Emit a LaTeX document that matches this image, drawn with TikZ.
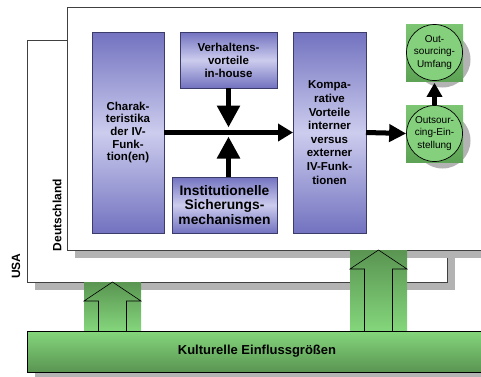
\documentclass[tikz,border=0pt]{standalone}
\usepackage{fontspec}
\setmainfont{Liberation Sans}
\usetikzlibrary{arrows.meta,calc,positioning,shadows}
\definecolor{lilaD}{HTML}{7272C0}
\definecolor{lilaH}{HTML}{CCCCEE}
\definecolor{lilaR}{HTML}{3C3C6C}
\definecolor{gruenH}{HTML}{84D67C}
\definecolor{gruenD}{HTML}{5A9552}
\definecolor{gruenQ}{HTML}{6EC064}
\definecolor{gruenK}{HTML}{84D07C}
\definecolor{schatten}{HTML}{B3B3B3}
\tikzset{
	land/.style={draw=black!75, fill=white, line width=.9pt, inner sep=0pt, outer sep=0pt,
		drop shadow={shadow xshift=8pt, shadow yshift=-8pt, fill=schatten, opacity=1}},
	land name/.style={rotate=90, font=\fontsize{12}{14}\selectfont\bfseries, inner sep=0pt},
	lila/.style={draw=lilaR, line width=.8pt, top color=lilaD, bottom color=lilaD, middle color=lilaH,
		inner sep=0pt, outer sep=0pt, align=center,
		font=\fontsize{11.5}{13}\selectfont\bfseries},
	quadrat/.style={top color=gruenQ!90!white, bottom color=gruenQ!85!black, minimum size=57pt,
		inner sep=0pt, outer sep=0pt},
	kreis/.style={circle, draw=black, line width=.7pt, fill=gruenK, minimum size=56pt,
		inner sep=0pt, align=center, font=\fontsize{10}{12.5}\selectfont},
	streifen/.style={top color=gruenD, bottom color=gruenH, minimum width=57pt,
		inner sep=0pt, outer sep=0pt},
	pfeilrand/.style={draw=black, line width=.6pt},
	pfeil/.style 2 args={line width=5.5pt, -{Triangle[length=#1pt, width=#2pt]}}
}
\begin{document}
\begin{tikzpicture}[x=1pt, y=-1pt]
	\useasboundingbox (0,0) rectangle (481,376);
	% Laender
	\node[land, minimum width=420, minimum height=242] (usa) at (237,161) {};
	\node[land, minimum width=433, minimum height=243] (de) at (283.5,128.5) {};
	\node[land name] at (16,266) {USA};
	\node[land name] at (57,215) {Deutschland};
	% Modell
	\node[lila, minimum width=72, minimum height=201, font=\fontsize{11.5}{12.6}\selectfont\bfseries] (charak)
		at (128,132.5) {Charak-\\teristika\\der IV-\\Funk-\\tion(en)};
	\node[lila, minimum width=97, minimum height=56, right=16 of charak.north east, anchor=north west] (verh)
		{Verhaltens-\\vorteile\\in-house};
	\node[lila, minimum width=105, minimum height=56, font=\fontsize{13.8}{14.5}\selectfont\bfseries] (inst)
		at (224.5,205) {Institutionelle\\Sicherungs-\\mechanismen};
	\node[lila, minimum width=73, minimum height=201, font=\fontsize{11.5}{13.6}\selectfont\bfseries,
		right=16 of verh.north east, anchor=north west] (komp)
		{Kompa-\\rative\\Vorteile\\interner\\versus\\externer\\IV-Funk-\\tionen};
	\foreach \y in {52.5,133.5}
		\fill[schatten] (442.5,\y+7) circle[radius=28];
	\node[quadrat] (qu) at (434.5,52.5) {};
	\node[quadrat] (qe) at (434.5,133.5) {};
	\node[kreis] (umfang) at (qu) {Out-\\sourcing-\\Umfang};
	\node[kreis] (einst) at (qe) {Outsour-\\cing-Ein-\\stellung};
	\draw[pfeil={15}{17}, line width=5pt] (charak.east) -- (komp.west);
	\draw[pfeil={22}{22}] (verh.south) -- ($(verh.south |- charak.east)+(0,-5)$);
	\draw[pfeil={22}{22}] (verh.south |- inst.north) -- ($(verh.south |- charak.east)+(0,4)$);
	\draw[pfeil={17}{17}, line width=5pt] (komp.east) -- (einst.west);
	\draw[pfeil={14}{15}, shorten >=2pt] (einst.north) -- (umfang.south);
	% Kultur
	\node[streifen, minimum height=49] (sl) at (112.5,306.5) {};
	\node[streifen, minimum height=81] (sr) at (378.5,290.5) {};
	\node[draw=black, line width=.8pt, top color=gruenH, bottom color=gruenD, minimum width=460,
		minimum height=41, font=\fontsize{13}{15}\selectfont\bfseries,
		drop shadow={shadow xshift=8pt, shadow yshift=-5pt, fill=schatten, opacity=1}] (kultur)
		at (257,351.5) {Kulturelle Einflussgrößen};
	\foreach \s in {sl,sr}
		\draw[pfeilrand] ($(\s.south)+(-14,0)$) |- ($(\s.north west)+(0,19)$) -- (\s.north)
			-- ($(\s.north east)+(0,19)$) -| ($(\s.south)+(14,0)$);
\end{tikzpicture}
\end{document}
